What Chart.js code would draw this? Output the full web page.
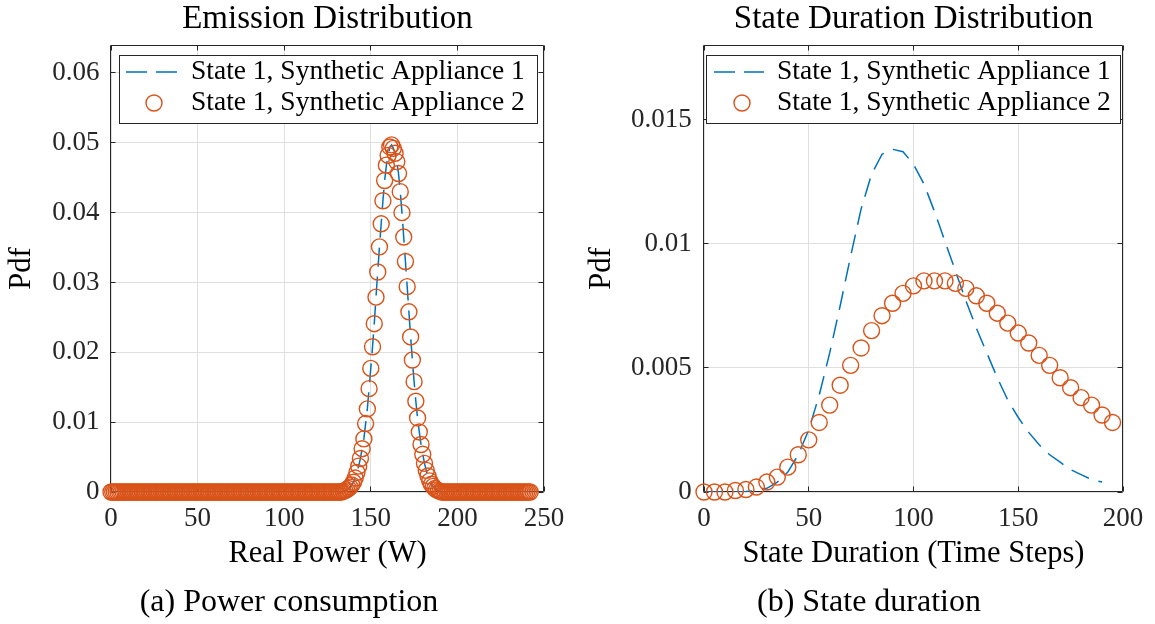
<!DOCTYPE html>
<html>
<head>
<meta charset="utf-8">
<script src="https://cdn.jsdelivr.net/npm/chart.js@4.4.0/dist/chart.umd.min.js"></script>
<style>
  html, body { margin: 0; padding: 0; background: #fff; width: 1155px; height: 624px; overflow: hidden; }
  canvas { position: absolute; top: 0; }
  #c1 { left: 0; }
  #c2 { left: 578px; }
  .cap { position: absolute; font-family: "Liberation Serif", "Times New Roman", serif; font-size: 32px;
         line-height: 32px; color: #000; white-space: nowrap; transform: translateX(-50%); }
</style>
</head>
<body>
<canvas id="c1" width="577" height="624" style="width:577px;height:624px"></canvas>
<canvas id="c2" width="577" height="624" style="width:577px;height:624px"></canvas>
<div class="cap" style="left:289px;top:584px">(a) Power consumption</div>
<div class="cap" style="left:869px;top:584px">(b) State duration</div>
<script>
// ---------------- DATA ----------------
// (a) Emission distribution: Real Power from 0 W in steps of 1 W (index = watts)
const powerStartW = 0;
const powerStepW = 1;
const emissionApp1 = [
  // 0 .. 133 W
  0,0,0,0,0,0,0,0,0,0, 0,0,0,0,0,0,0,0,0,0, 0,0,0,0,0,0,0,0,0,0, 0,0,0,0,0,0,0,0,0,0,
  0,0,0,0,0,0,0,0,0,0, 0,0,0,0,0,0,0,0,0,0, 0,0,0,0,0,0,0,0,0,0, 0,0,0,0,0,0,0,0,0,0,
  0,0,0,0,0,0,0,0,0,0, 0,0,0,0,0,0,0,0,0,0, 0,0,0,0,0,0,0,0,0,0, 0,0,0,0,0,0,0,0,0,0,
  0,0,0,0,0,0,0,0,0,0, 0,0,0,0,
  // 134 .. 190 W
  0.0001, 0.0002, 0.0003, 0.0005, 0.0007, 0.0010, 0.0014, 0.0020, 0.0028, 0.0037,
  0.0048, 0.0062, 0.0076, 0.0098, 0.0119, 0.0148, 0.0177, 0.0208, 0.0241, 0.0279,
  0.0315, 0.0351, 0.0384, 0.0417, 0.0446, 0.0468, 0.0482, 0.0494, 0.0497, 0.0492,
  0.0485, 0.0473, 0.0456, 0.0430, 0.0400, 0.0365, 0.0330, 0.0294, 0.0258, 0.0222,
  0.0189, 0.0158, 0.0130, 0.0106, 0.0086, 0.0068, 0.0054, 0.0041, 0.0031, 0.0023,
  0.0016, 0.0011, 0.0008, 0.0005, 0.0003, 0.0002, 0.0001,
  // 191 .. 242 W
  0,0,0,0,0,0,0,0,0,0, 0,0,0,0,0,0,0,0,0,0, 0,0,0,0,0,0,0,0,0,0, 0,0,0,0,0,0,0,0,0,0,
  0,0,0,0,0,0,0,0,0,0, 0,0
];
const emissionApp2 = [
  0,0,0,0,0,0,0,0,0,0, 0,0,0,0,0,0,0,0,0,0, 0,0,0,0,0,0,0,0,0,0, 0,0,0,0,0,0,0,0,0,0,
  0,0,0,0,0,0,0,0,0,0, 0,0,0,0,0,0,0,0,0,0, 0,0,0,0,0,0,0,0,0,0, 0,0,0,0,0,0,0,0,0,0,
  0,0,0,0,0,0,0,0,0,0, 0,0,0,0,0,0,0,0,0,0, 0,0,0,0,0,0,0,0,0,0, 0,0,0,0,0,0,0,0,0,0,
  0,0,0,0,0,0,0,0,0,0, 0,0,0,0,
  0.0001, 0.0002, 0.0003, 0.0005, 0.0007, 0.0010, 0.0014, 0.0020, 0.0028, 0.0037,
  0.0048, 0.0062, 0.0076, 0.0098, 0.0119, 0.0148, 0.0177, 0.0208, 0.0241, 0.0279,
  0.0315, 0.0351, 0.0384, 0.0417, 0.0446, 0.0468, 0.0482, 0.0494, 0.0497, 0.0492,
  0.0485, 0.0473, 0.0456, 0.0430, 0.0400, 0.0365, 0.0330, 0.0294, 0.0258, 0.0222,
  0.0189, 0.0158, 0.0130, 0.0106, 0.0086, 0.0068, 0.0054, 0.0041, 0.0031, 0.0023,
  0.0016, 0.0011, 0.0008, 0.0005, 0.0003, 0.0002, 0.0001,
  0,0,0,0,0,0,0,0,0,0, 0,0,0,0,0,0,0,0,0,0, 0,0,0,0,0,0,0,0,0,0, 0,0,0,0,0,0,0,0,0,0,
  0,0,0,0,0,0,0,0,0,0, 0,0
];

// (b) State duration distribution
const durationStepsApp1 = [0,5,10,15,20,25,30,35,40,45,50,55,60,65,70,75,80,85,90,95,
  100,105,110,115,120,125,130,135,140,145,150,155,160,165,170,175,180,185,190];
const durationApp1 = [0, 0, 0, 0, 0.00002, 0.00005, 0.00015, 0.0004, 0.0008, 0.0015,
  0.0025, 0.0039, 0.0056, 0.0075, 0.0095, 0.0114, 0.0128, 0.0136, 0.0138, 0.0137,
  0.0132, 0.0124, 0.0113, 0.0101, 0.0089, 0.0077, 0.0066, 0.0056, 0.0046, 0.0037,
  0.0030, 0.0024, 0.0019, 0.0015, 0.0012, 0.0009, 0.0007, 0.0005, 0.0004];
const durationStepsApp2 = [0,5,10,15,20,25,30,35,40,45,50,55,60,65,70,75,80,85,90,95,
  100,105,110,115,120,125,130,135,140,145,150,155,160,165,170,175,180,185,190,195];
const durationApp2 = [0, 0, 0, 0.00006, 0.0001, 0.0002, 0.0004, 0.0006, 0.0010, 0.0015,
  0.0021, 0.0028, 0.0035, 0.0043, 0.0051, 0.0058, 0.0065, 0.0071, 0.0076, 0.0080,
  0.0083, 0.0085, 0.0085, 0.0085, 0.0084, 0.0082, 0.0079, 0.0076, 0.0072, 0.0068,
  0.0064, 0.0060, 0.0055, 0.0051, 0.0046, 0.0042, 0.0038, 0.0035, 0.0031, 0.0028];

// Tick values and labels
const powerTicks = [0, 50, 100, 150, 200, 250];
const powerTickLabels = ['0', '50', '100', '150', '200', '250'];
const pdfTicksA = [0, 0.01, 0.02, 0.03, 0.04, 0.05, 0.06];
const pdfTickLabelsA = ['0', '0.01', '0.02', '0.03', '0.04', '0.05', '0.06'];
const durationTicks = [0, 50, 100, 150, 200];
const durationTickLabels = ['0', '50', '100', '150', '200'];
const pdfTicksB = [0, 0.005, 0.01, 0.015];
const pdfTickLabelsB = ['0', '0.005', '0.01', '0.015'];

const seriesNames = ['State 1, Synthetic Appliance 1', 'State 1, Synthetic Appliance 2'];

// ---------------- STYLE / HELPERS ----------------
const FONT = '"Liberation Serif", "Times New Roman", serif';
const BLUE = '#0072BD';
const ORANGE = '#D95319';
const AXIS = '#262626';
Chart.defaults.font.family = FONT;

const fixedTicks = (values) => (scale) => { scale.ticks = values.map(v => ({ value: v })); };
const align1 = (p) => Math.round(p - 0.5) + 0.5;

const matlabAxes = {
  id: 'matlabAxes',
  beforeDatasetsDraw(chart) {
    const { ctx, chartArea: a, scales } = chart;
    const xs = scales.x, ys = scales.y;
    const L = a.left - 0.5, R = a.right - 0.5, T = a.top + 0.5, B = a.bottom - 0.5;
    const tl = 5;
    ctx.save();
    ctx.strokeStyle = AXIS;
    ctx.lineWidth = 1;
    ctx.beginPath();
    ctx.rect(L, T, R - L, B - T);
    xs.ticks.forEach(t => {
      const p = align1(xs.getPixelForValue(t.value));
      ctx.moveTo(p, B); ctx.lineTo(p, B - tl);
      ctx.moveTo(p, T); ctx.lineTo(p, T + tl);
    });
    ys.ticks.forEach(t => {
      const p = align1(ys.getPixelForValue(t.value));
      ctx.moveTo(L, p); ctx.lineTo(L + tl, p);
      ctx.moveTo(R, p); ctx.lineTo(R - tl, p);
    });
    ctx.stroke();
    ctx.restore();
  }
};

const matlabLegend = {
  id: 'matlabLegend',
  afterDraw(chart, args, o) {
    const ctx = chart.ctx;
    ctx.save();
    ctx.fillStyle = '#fff';
    ctx.fillRect(o.left, o.top, o.width, o.height);
    ctx.strokeStyle = AXIS;
    ctx.lineWidth = 1;
    ctx.strokeRect(o.left + 0.5, o.top + 0.5, o.width, o.height);
    // row 1: dashed line
    ctx.strokeStyle = BLUE;
    ctx.lineWidth = 1.5;
    ctx.setLineDash([21, 9]);
    ctx.beginPath();
    ctx.moveTo(o.lineX0, o.row1);
    ctx.lineTo(o.lineX1, o.row1);
    ctx.stroke();
    ctx.setLineDash([]);
    // row 2: circle
    ctx.strokeStyle = ORANGE;
    ctx.lineWidth = 1.4;
    ctx.beginPath();
    ctx.arc(o.markerX, o.row2, 8, 0, Math.PI * 2);
    ctx.stroke();
    ctx.fillStyle = '#000';
    ctx.font = '27.5px ' + FONT;
    ctx.textBaseline = 'middle';
    ctx.textAlign = 'left';
    ctx.fillText(seriesNames[0], o.textX, o.row1);
    ctx.fillText(seriesNames[1], o.textX, o.row2);
    ctx.restore();
  }
};

function makeChart(id, cfg) {
  return new Chart(document.getElementById(id), {
    type: 'line',
    data: {
      datasets: [
        {
          label: seriesNames[0],
          data: cfg.x1.map((x, i) => ({ x: x, y: cfg.y1[i] })),
          borderColor: BLUE, borderWidth: 1.5, borderDash: [19, 10],
          pointRadius: 0, fill: false, tension: 0, order: 2
        },
        {
          label: seriesNames[1],
          data: cfg.x2.map((x, i) => ({ x: x, y: cfg.y2[i] })),
          showLine: false, borderColor: ORANGE, backgroundColor: 'rgba(0,0,0,0)',
          pointStyle: 'circle', pointRadius: 8, pointBorderWidth: 1.4, pointBorderColor: ORANGE,
          pointBackgroundColor: 'rgba(0,0,0,0)', clip: false, order: 1
        }
      ]
    },
    options: {
      responsive: false, animation: false, devicePixelRatio: 1, events: [],
      layout: { padding: { left: 0, right: cfg.padRight, top: 0, bottom: 0 } },
      plugins: {
        legend: { display: false },
        tooltip: { enabled: false },
        title: {
          display: true, text: cfg.title, fullSize: false, color: '#000',
          font: { family: FONT, size: 33, weight: 'normal' }, padding: { top: 0, bottom: 5.4 }
        },
        matlabLegend: cfg.legend
      },
      scales: {
        x: {
          type: 'linear', min: cfg.xMin, max: cfg.xMax,
          afterBuildTicks: fixedTicks(cfg.xTicks),
          afterFit: (s) => { s.height = 132; },
          grid: { color: '#dfdfdf', drawTicks: false, lineWidth: 1 },
          border: { display: false },
          ticks: { padding: 10.3, color: AXIS, font: { family: FONT, size: 27 }, maxRotation: 0,
                   autoSkip: false, callback: (v, i) => cfg.xTickLabels[i] },
          title: { display: true, text: cfg.xTitle, color: '#000',
                   font: { family: FONT, size: 30.5 }, padding: { top: 0, bottom: 52 } }
        },
        y: {
          type: 'linear', min: 0, max: cfg.yMax,
          afterBuildTicks: fixedTicks(cfg.yTicks),
          afterFit: (s) => { s.width = cfg.yAxisWidth; },
          grid: { color: '#dfdfdf', drawTicks: false, lineWidth: 1 },
          border: { display: false },
          ticks: { padding: cfg.yTickPad, color: AXIS, font: { family: FONT, size: 27 },
                   autoSkip: false, callback: (v, i) => cfg.yTickLabels[i] },
          title: { display: true, text: 'Pdf', color: '#000',
                   font: { family: FONT, size: 30.5 }, padding: { top: cfg.yTitlePad, bottom: 0 } }
        }
      }
    },
    plugins: [matlabAxes, matlabLegend]
  });
}

makeChart('c1', {
  title: 'Emission Distribution',
  x1: emissionApp1.map((_, i) => powerStartW + i * powerStepW), y1: emissionApp1,
  x2: emissionApp2.map((_, i) => powerStartW + i * powerStepW), y2: emissionApp2,
  xMin: 0, xMax: 250, xTicks: powerTicks, xTickLabels: powerTickLabels, xTitle: 'Real Power (W)',
  yMax: 0.064, yTicks: pdfTicksA, yTickLabels: pdfTickLabelsA,
  yAxisWidth: 111, yTickPad: 11.5, yTitlePad: 3.5, padRight: 33,
  legend: { left: 119, top: 55, width: 418, height: 68, lineX0: 126, lineX1: 177,
            markerX: 154, textX: 191, row1: 72, row2: 103 }
});

makeChart('c2', {
  title: 'State Duration Distribution',
  x1: durationStepsApp1, y1: durationApp1,
  x2: durationStepsApp2, y2: durationApp2,
  xMin: 0, xMax: 200, xTicks: durationTicks, xTickLabels: durationTickLabels,
  xTitle: 'State Duration (Time Steps)',
  yMax: 0.018, yTicks: pdfTicksB, yTickLabels: pdfTickLabelsB,
  yAxisWidth: 126, yTickPad: 12.3, yTitlePad: 5.5, padRight: 32,
  legend: { left: 128, top: 55, width: 414, height: 68, lineX0: 136, lineX1: 186,
            markerX: 164, textX: 199, row1: 72, row2: 103 }
});
</script>
</body>
</html>
